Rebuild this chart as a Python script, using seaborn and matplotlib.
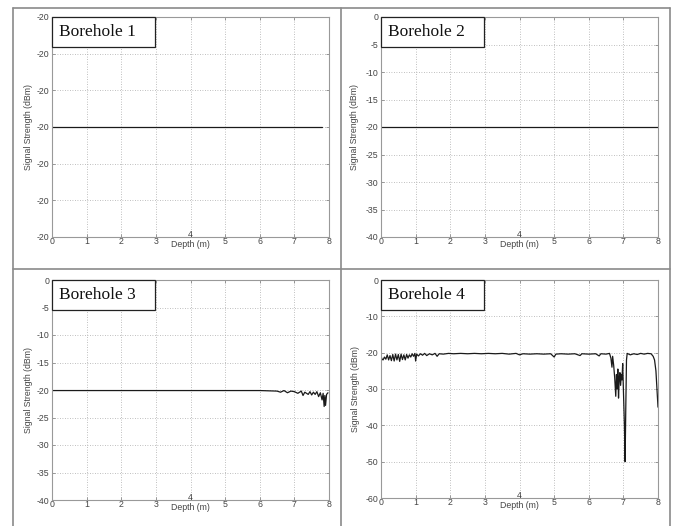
import matplotlib
matplotlib.use("Agg")
import matplotlib.pyplot as plt
import seaborn as sns
from matplotlib.patches import Rectangle
from matplotlib.lines import Line2D

# ---------------- data ----------------
titles = ["Borehole 1", "Borehole 2", "Borehole 3", "Borehole 4"]

depth_1 = [0.0, 7.8]
signal_1 = [-20.0, -20.0]

depth_2 = [0.0, 8.0]
signal_2 = [-20.0, -20.0]

depth_3 = [0.0, 1.0, 2.0, 3.0, 4.0, 5.0, 6.0, 6.5, 6.6, 6.7, 6.8, 6.9, 7.0, 7.1,
           7.2, 7.25, 7.3, 7.4, 7.45, 7.5, 7.55, 7.6, 7.65, 7.7, 7.75, 7.8,
           7.83, 7.86, 7.88, 7.9, 7.93, 7.97]
signal_3 = [-20.1, -20.1, -20.1, -20.1, -20.1, -20.1, -20.1, -20.2, -20.4, -20.1,
            -20.5, -20.2, -20.3, -20.6, -20.2, -21.0, -20.4, -20.8, -20.3, -20.9,
            -20.4, -20.8, -20.3, -21.2, -20.5, -21.8, -20.6, -23.0, -21.0, -22.8,
            -20.8, -20.5]

depth_4 = [0.00, 0.03, 0.06, 0.10, 0.14, 0.18, 0.22, 0.26, 0.30, 0.34, 0.38,
           0.42, 0.46, 0.50, 0.54, 0.58, 0.62, 0.66, 0.70, 0.74, 0.78, 0.82,
           0.86, 0.90, 0.94, 0.98, 1.00, 1.03, 1.08, 1.14, 1.20, 1.26, 1.32,
           1.40, 1.48, 1.56, 1.62, 1.68, 1.80, 1.95, 2.10, 2.30, 2.50, 2.70,
           2.90, 3.10, 3.30, 3.50, 3.70, 3.90, 4.00, 4.10, 4.30, 4.50, 4.70,
           4.90, 5.00, 5.05, 5.20, 5.40, 5.60, 5.75, 5.80, 6.00, 6.20, 6.30,
           6.35, 6.50, 6.60, 6.64, 6.67, 6.69, 6.72, 6.75, 6.78, 6.80, 6.82,
           6.84, 6.86, 6.88, 6.90, 6.92, 6.94, 6.96, 6.98, 7.00, 7.03, 7.05,
           7.07, 7.09, 7.11, 7.20, 7.30, 7.40, 7.50, 7.60, 7.70, 7.80, 7.86,
           7.90, 7.94, 7.97, 8.00]
signal_4 = [-21.0, -21.8, -22.0, -21.2, -21.8, -20.6, -22.0, -20.8, -22.2, -20.5,
            -22.3, -20.4, -22.0, -20.5, -22.4, -20.4, -21.9, -20.6, -22.0, -20.5,
            -21.5, -20.6, -21.2, -20.3, -21.0, -20.2, -22.3, -20.4, -20.9, -20.3,
            -20.7, -20.2, -20.8, -20.3, -20.6, -20.2, -21.0, -20.3, -20.4, -20.2,
            -20.3, -20.2, -20.3, -20.2, -20.3, -20.2, -20.3, -20.2, -20.4, -20.2,
            -20.6, -20.3, -20.4, -20.3, -20.4, -20.3, -21.2, -20.4, -20.3, -20.4,
            -20.3, -20.8, -20.3, -20.4, -20.3, -20.9, -20.3, -20.4, -20.2, -21.5,
            -24.0, -21.0, -23.5, -27.0, -32.0, -26.0, -30.0, -24.5, -32.5, -27.0,
            -25.5, -29.0, -26.0, -27.5, -23.0, -30.0, -40.0, -50.0, -35.0, -22.0,
            -20.2, -20.6, -20.3, -20.5, -20.2, -20.4, -20.2, -20.3, -21.0, -22.0,
            -25.0, -30.0, -35.0]

x_ticks = [0, 1, 2, 3, 4, 5, 6, 7, 8]
y_ticks_1 = [-20.3, -20.2, -20.1, -20.0, -19.9, -19.8, -19.7]
y_ticklabels_1 = ["-20", "-20", "-20", "-20", "-20", "-20", "-20"]
y_ticks_23 = [-40, -35, -30, -25, -20, -15, -10, -5, 0]
y_ticks_4 = [-60, -50, -40, -30, -20, -10, 0]

# ---------------- style ----------------
sns.set_style("white")
plt.rcParams["font.family"] = ["Liberation Sans", "DejaVu Sans"]

W, H = 675, 526
fig = plt.figure(figsize=(W / 100, H / 100), dpi=100)
fig.patch.set_facecolor("white")

def box(l, t, r, b):
    return [l / W, 1 - b / H, (r - l) / W, (b - t) / H]

axes_px = [(52, 17, 329, 237), (381, 17, 658, 237),
           (52, 280, 329, 500), (381, 280, 658, 498)]
ylabel_x = [-0.069, -0.079, -0.069, -0.077]

datasets = [(depth_1, signal_1), (depth_2, signal_2),
            (depth_3, signal_3), (depth_4, signal_4)]

tick_col = "#444444"
for i, px in enumerate(axes_px):
    ax = fig.add_axes(box(*px))
    ax_h = px[3] - px[1]
    d, s = datasets[i]
    sns.lineplot(x=d, y=s, ax=ax, color="#1a1a1a", linewidth=0.9,
                 estimator=None, sort=False)
    ax.set_xlim(0, 8)
    ax.set_xticks(x_ticks)
    if i == 0:
        ax.set_ylim(-20.3, -19.7)
        ax.set_yticks(y_ticks_1)
        ax.set_yticklabels(y_ticklabels_1)
    elif i in (1, 2):
        ax.set_ylim(-40, 0)
        ax.set_yticks(y_ticks_23)
        ax.set_yticklabels([str(v) for v in y_ticks_23])
    else:
        ax.set_ylim(-60, 0)
        ax.set_yticks(y_ticks_4)
        ax.set_yticklabels([str(v) for v in y_ticks_4])
    ax.set_xticklabels([str(v) for v in x_ticks])
    ax.grid(True, linestyle=(0, (1, 2)), color="#aaaaaa", linewidth=0.6)
    for sp in ax.spines.values():
        sp.set_color("#999999")
        sp.set_linewidth(0.8)
    ax.tick_params(direction="in", length=2.5, width=0.6, color="#888888",
                   labelsize=6.3, labelcolor=tick_col,
                   top=True, right=True, bottom=True, left=True)
    ax.tick_params(axis="x", pad=0.3)
    ax.tick_params(axis="y", pad=2)
    ax.set_xlabel("Depth (m)", fontsize=6.3, color=tick_col)
    ax.set_ylabel("Signal Strength (dBm)", fontsize=6.3, color=tick_col)
    ax.xaxis.set_label_coords(0.5, -0.014)
    ax.yaxis.set_label_coords(ylabel_x[i], 0.5)
    # middle tick label raised above the axis title, as in the source
    ax.xaxis.get_major_ticks()[4].label1.set_y(7.0 / ax_h)
    # label box
    ax.add_patch(Rectangle((0, 1 - 30 / ax_h), 0.373, 30 / ax_h,
                           transform=ax.transAxes, facecolor="white",
                           edgecolor="#222222", linewidth=0.9, zorder=5,
                           clip_on=False))
    ax.text(0.027, 1 - 15 / ax_h, titles[i], transform=ax.transAxes,
            fontsize=12.5, family=["Liberation Serif", "DejaVu Serif"],
            va="center", ha="left", color="#111111", zorder=6)

# panel border lines
bc = "#8a8a8a"
def fx(p):
    return p / W
def fy(p):
    return 1 - p / H
fig.add_artist(Line2D([fx(13), fx(13)], [fy(8), fy(526)], color=bc, lw=1.2))
fig.add_artist(Line2D([fx(341), fx(341)], [fy(8), fy(526)], color=bc, lw=1.2))
fig.add_artist(Line2D([fx(670), fx(670)], [fy(8), fy(526)], color=bc, lw=1.2))
fig.add_artist(Line2D([fx(13), fx(670)], [fy(8), fy(8)], color=bc, lw=1.2))
fig.add_artist(Line2D([fx(13), fx(670)], [fy(269), fy(269)], color=bc, lw=1.2))

fig.savefig("out.png", dpi=100)
